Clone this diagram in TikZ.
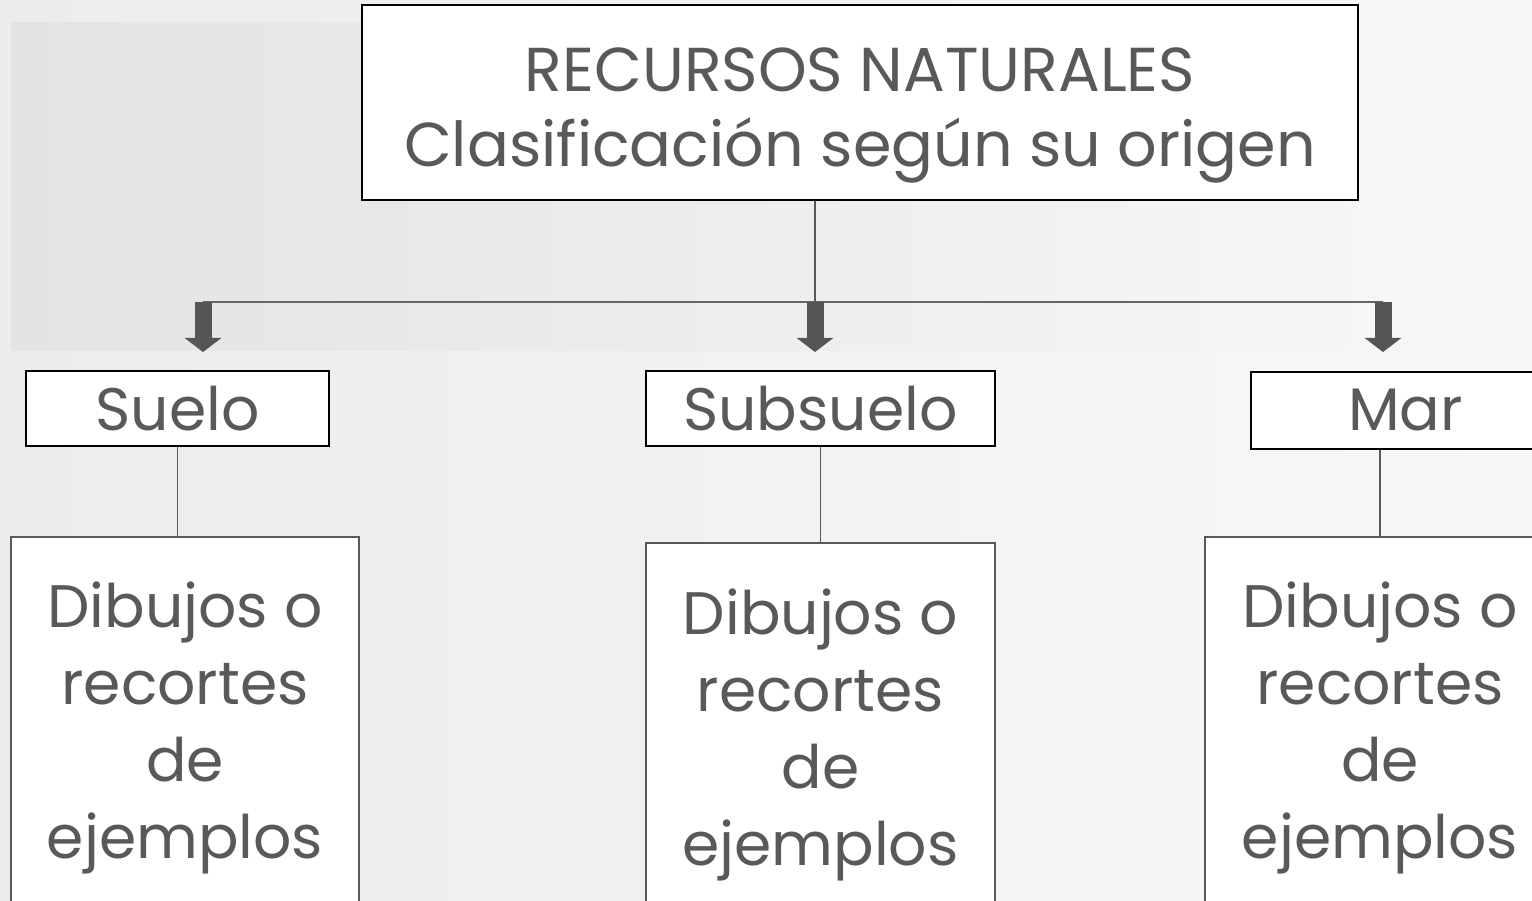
\documentclass[tikz,border=0pt]{standalone}
\usepackage{fontspec}
\setmainfont{Poppins}
\usetikzlibrary{arrows.meta}
\definecolor{txt}{HTML}{595959}
\definecolor{ln}{HTML}{555555}
\definecolor{bgl}{HTML}{ECECEC}
\definecolor{bgr}{HTML}{F8F8F8}
\definecolor{inl}{HTML}{E3E3E3}
\definecolor{inr}{HTML}{F8F8F8}
\begin{document}
\begin{tikzpicture}[x=1pt,y=-1pt,
  lbl/.style={text=txt, font=\fontsize{60}{77}\selectfont, align=center, inner sep=0pt},
  titlebox/.style={text=txt, font=\fontsize{62}{75}\selectfont, inner sep=0pt, draw=black, line width=2pt, fill=white},
  topbox/.style={lbl, draw=black, line width=2pt, fill=white},
  bigbox/.style={lbl, draw=txt, line width=2.4pt, fill=white},
  conn/.style={draw=txt, line width=1.2pt},
  bar/.style={draw=ln!90, line width=2pt},
  blockarrow/.style={draw=ln, line width=17pt, -{Triangle[width=36pt,length=14pt]}}
]
\useasboundingbox (0,0) rectangle (1532,901);
\clip (0,0) rectangle (1532,901);
\shade[left color=bgl, right color=bgr] (0,0) rectangle (1532,901);
\shade[left color=inl, right color=inr] (11,23) rectangle (1524,351);

\node[titlebox, minimum width=996pt, minimum height=195pt, text height=140pt, text depth=11pt] (title) at (860,102.5)
  {\begin{tabular}[b]{@{}c@{}}RECURSOS NATURALES\\Clasificación según su origen\end{tabular}};

\node[topbox, minimum width=303pt, minimum height=75pt] (suelo) at (177.5,408.5) {Suelo};
\node[topbox, minimum width=349pt, minimum height=75pt] (subsuelo) at (820.5,408.5) {Subsuelo};
\node[topbox, minimum width=309pt, minimum height=77pt] (mar) at (1405.5,410.5) {Mar};

\node[bigbox, minimum width=348pt, minimum height=382pt] (ej1) at (185,728) {Dibujos o\\recortes\\de\\ejemplos};
\node[bigbox, minimum width=349pt, minimum height=384pt] (ej2) at (820.5,735) {Dibujos o\\recortes\\de\\ejemplos};
\node[bigbox, minimum width=350pt, minimum height=382pt] (ej3) at (1380,728) {Dibujos o\\recortes\\de\\ejemplos};

\coordinate (j) at (815,302);
\coordinate (jl) at (203,302);
\coordinate (jr) at (1383,302);
\coordinate (al) at (203,352);
\coordinate (am) at (815,352);
\coordinate (ar) at (1383,352);

\draw[conn] (title.south -| j) -- (j);
\draw[bar] (jl) -- (jr);
\draw[blockarrow] (jl) -- (al);
\draw[blockarrow] (j) -- (am);
\draw[blockarrow] (jr) -- (ar);

\draw[conn] (suelo.south) -- (suelo.south |- ej1.north);
\draw[conn] (subsuelo.south) -- (subsuelo.south |- ej2.north);
\draw[conn] (ej3.north |- mar.south) -- (ej3.north);
\end{tikzpicture}
\end{document}
